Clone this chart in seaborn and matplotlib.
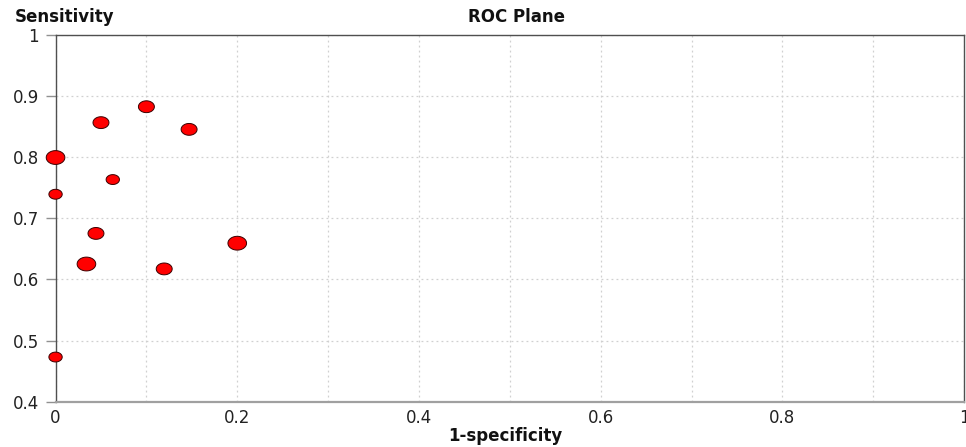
import numpy as np
import pandas as pd
import matplotlib
matplotlib.use("Agg")
import matplotlib.pyplot as plt
from matplotlib.path import Path
import seaborn as sns

# Data
fpr = [0.0, 0.0, 0.0, 0.034, 0.0445, 0.050, 0.063, 0.100, 0.1196, 0.147, 0.200]
tpr = [0.799, 0.739, 0.473, 0.625, 0.675, 0.856, 0.763, 0.882, 0.617, 0.845, 0.659]
weight = [3, 1, 1, 3, 2, 2, 1, 2, 2, 2, 3]
x_ticks = [0, 0.2, 0.4, 0.6, 0.8, 1]
x_tick_labels = ["0", "0.2", "0.4", "0.6", "0.8", "1"]
y_ticks = [0.4, 0.5, 0.6, 0.7, 0.8, 0.9, 1.0]
y_tick_labels = ["0.4", "0.5", "0.6", "0.7", "0.8", "0.9", "1"]

df = pd.DataFrame({"fpr": fpr, "tpr": tpr, "w": weight})

sns.set_style("white")
plt.rcParams["font.family"] = ["DejaVu Sans"]

fig = plt.figure(figsize=(9.66, 4.47), dpi=100)
ax = fig.add_axes([0.0575, 0.1013, 0.9405, 0.8215])

# ellipse marker (wider than tall)
t = np.linspace(0, 2 * np.pi, 60)
verts = np.column_stack([1.35 * np.cos(t), np.sin(t)])
ell = Path(verts, closed=True)

sns.scatterplot(data=df, x="fpr", y="tpr", size="w", sizes={1: 92, 2: 132, 3: 180},
                marker=ell, color="#ff0000", edgecolor="#3a0000", linewidth=0.7,
                legend=False, ax=ax, zorder=3, clip_on=False)

ax.set_xlim(0, 1)
ax.set_ylim(0.4, 1.0)
ax.set_xticks(x_ticks)
ax.set_xticklabels(x_tick_labels)
ax.set_yticks(y_ticks)
ax.set_yticklabels(y_tick_labels)
ax.set_xticks(np.arange(0.1, 1.0, 0.2), minor=True)

ax.grid(True, which="both", axis="x", color="#d0d0d0", linestyle=(0, (1.5, 2.5)), linewidth=0.9)
ax.grid(True, which="major", axis="y", color="#d0d0d0", linestyle=(0, (1.5, 2.5)), linewidth=0.9)
ax.set_axisbelow(True)

for s in ["top", "left", "right"]:
    ax.spines[s].set_visible(True)
    ax.spines[s].set_color("#505050")
    ax.spines[s].set_linewidth(1.0)
ax.spines["bottom"].set_color("#a0a0a0")
ax.spines["bottom"].set_linewidth(1.6)

ax.tick_params(axis="y", which="major", left=True, length=7, width=1, color="#909090",
               labelsize=12, labelcolor="#222222", pad=5)
ax.tick_params(axis="x", which="both", bottom=False, labelsize=12, labelcolor="#222222", pad=2)

ax.set_xlabel("")
ax.set_ylabel("")
fig.text(15 / 966, 1 - 17 / 447, "Sensitivity", fontsize=12, fontweight="bold",
         ha="left", va="center", color="#111111")
fig.text(516 / 966, 1 - 17 / 447, "ROC Plane", fontsize=12, fontweight="bold",
         ha="center", va="center", color="#111111")
fig.text(505 / 966, 1 - 436 / 447, "1-specificity", fontsize=12, fontweight="bold",
         ha="center", va="center", color="#111111")

fig.savefig("out.png", dpi=100)
